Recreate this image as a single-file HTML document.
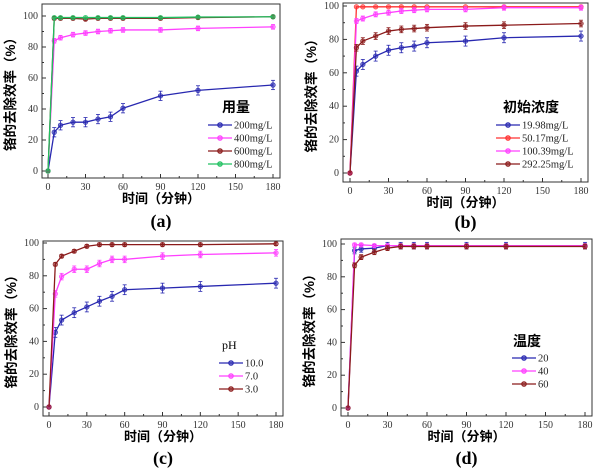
<!DOCTYPE html>
<html><head><meta charset="utf-8"><style>
body{margin:0;background:#fff;width:600px;height:472px;overflow:hidden}
svg{display:block}
</style></head><body>
<svg id="s" width="600" height="472" xmlns="http://www.w3.org/2000/svg"></svg>
<script>
const S=document.getElementById('s');let h='';
const T=[0,5,10,20,30,40,50,60,90,120,180];
const C={b:'#2828b0',m:'#ff40ff',r:'#8b1a1a',g:'#20c060'};
const panels=[
{L:42,T:4,R:280,B:178,x0:48,x1:273,y0:171,y1:16,lab:'(a)',ly:227,
 leg:{tx:222,ty:112,title:'用量',x:208,y:125,items:['200mg/L','400mg/L','600mg/L','800mg/L']},
 s:[[C.b,[0,25,29.5,31.5,31.5,33.5,35,40.5,48.5,52,55.5],3],[C.m,[0,84,86,88,89,90,90.5,91,91,92,93],1.5],
    [C.r,[0,98.5,98.5,98.5,98,98.5,98.5,98.5,98.5,99,99.5],1],[C.g,[0,99,99,99,99,99,99,99,99,99.3,99.5],0.5]]},
{L:343,T:3,R:588,B:182,x0:350,x1:581,y0:173,y1:6,lab:'(b)',ly:228,
 leg:{tx:503,ty:112,title:'初始浓度',x:496,y:125,items:['19.98mg/L','50.17mg/L','100.39mg/L','292.25mg/L']},
 s:[[C.b,[0,61,65,70,73.5,75,76,78,79,81,82],3],['#ff3030',[0,99.5,99.5,99.5,99.5,99.5,99.5,99.5,99.5,99.5,99.5],0.5],
    [C.m,[0,91,92.5,95,96,97,97.5,98,98,99,99],1.5],[C.r,[0,75,79,82,85,86,86.5,87,88,88.5,89.5],2]]},
{L:43,T:241,R:283,B:416,x0:49,x1:276,y0:407,y1:243,lab:'(c)',ly:464,
 leg:{tx:222,ty:349,title:'pH',x:219,y:363,items:['10.0','7.0','3.0']},
 s:[[C.b,[0,45.5,53,57.5,61,64.5,67.5,71.5,72.5,73.5,75.5],3],[C.m,[0,69,79.5,84,84,87.5,90,90,92,93,94],2],
    [C.r,[0,87,92,95,98,99,99,99,99,99,99.5],1]]},
{L:341,T:239,R:592,B:416,x0:348,x1:585,y0:408,y1:244,lab:'(d)',ly:464,
 leg:{tx:513,ty:346,title:'温度',x:512,y:358,items:['20','40','60']},
 s:[[C.b,[0,96,97,97.5,99,99,99,99,99,99,99],2],[C.m,[0,99.5,99.5,99,99,99,99,99,99,99,99],1],
    [C.r,[0,87,92,95,97.5,98.5,98.5,98.5,98.5,98.5,98.5],1.5]]}
];
const F='font-family="Liberation Serif,serif"';
const CJ='font-family="Liberation Sans,Noto Sans CJK SC,sans-serif"';
panels.forEach(p=>{
 const X=t=>p.x0+(p.x1-p.x0)*t/180,Y=v=>p.y0+(p.y1-p.y0)*v/100;
 h+=`<rect x="${p.L}" y="${p.T}" width="${p.R-p.L}" height="${p.B-p.T}" fill="none" stroke="#333" stroke-width="1"/>`;
 for(let t=0;t<=180;t+=15){const x=X(t);h+=`<line x1="${x}" y1="${p.B}" x2="${x}" y2="${p.B-(t%30?2:4)}" stroke="#333"/>`;
  if(t%30==0)h+=`<text x="${x}" y="${p.B+12}" font-size="10" text-anchor="middle" fill="#333" ${F}>${t}</text>`;}
 for(let v=0;v<=100;v+=10){const y=Y(v);h+=`<line x1="${p.L}" y1="${y}" x2="${p.L+(v%20?2:4)}" y2="${y}" stroke="#333"/>`;
  if(v%20==0)h+=`<text x="${p.L-4}" y="${y+3}" font-size="10" text-anchor="end" fill="#333" ${F}>${v}</text>`;}
 const cx=(p.L+p.R)/2;
 h+=`<text x="${cx}" y="${p.B+25}" font-size="13" font-weight="bold" text-anchor="middle" ${CJ}>时间（分钟）</text>`;
 h+=`<text x="${cx}" y="${p.ly}" font-size="18" font-weight="bold" text-anchor="middle" ${F}>${p.lab}</text>`;
 const my=(p.T+p.B)/2;
 h+=`<text transform="translate(${p.L-27},${my}) rotate(-90)" font-size="13.5" font-weight="bold" text-anchor="middle" ${CJ}>铬的去除效率（%）</text>`;
 p.s.forEach(([c,d,e])=>{
  h+=`<polyline fill="none" stroke="${c}" stroke-width="1.3" points="${d.map((v,i)=>X(T[i])+','+Y(v)).join(' ')}"/>`;
  d.forEach((v,i)=>{const x=X(T[i]),y=Y(v);if(i>0&&e>0.6){const a=Y(v+e),b=Y(v-e);
   h+=`<line x1="${x}" y1="${a}" x2="${x}" y2="${b}" stroke="${c}" stroke-width="0.8"/><line x1="${x-2}" y1="${a}" x2="${x+2}" y2="${a}" stroke="${c}" stroke-width="0.8"/><line x1="${x-2}" y1="${b}" x2="${x+2}" y2="${b}" stroke="${c}" stroke-width="0.8"/>`;}
   h+=`<circle cx="${x}" cy="${y}" r="2.3" fill="${c}" stroke="${c}" stroke-width="0.6" fill-opacity="0.6"/>`;});
 });
 const L=p.leg;
 h+=`<text x="${L.tx}" y="${L.ty}" font-size="${L.title=='pH'?12:14}" font-weight="${L.title=='pH'?'normal':'bold'}" ${L.title=='pH'?F:CJ}>${L.title}</text>`;
 L.items.forEach((it,i)=>{const y=L.y+i*13,c=p.s[i][0];
  h+=`<line x1="${L.x}" y1="${y}" x2="${L.x+24}" y2="${y}" stroke="${c}" stroke-width="1.3"/><circle cx="${L.x+12}" cy="${y}" r="2.3" fill="${c}" fill-opacity="0.6" stroke="${c}"/>`;
  h+=`<text x="${L.x+26}" y="${y+3.5}" font-size="10.5" fill="#222" ${F}>${it}</text>`;});
});
S.innerHTML=h;
</script>
</body></html>
